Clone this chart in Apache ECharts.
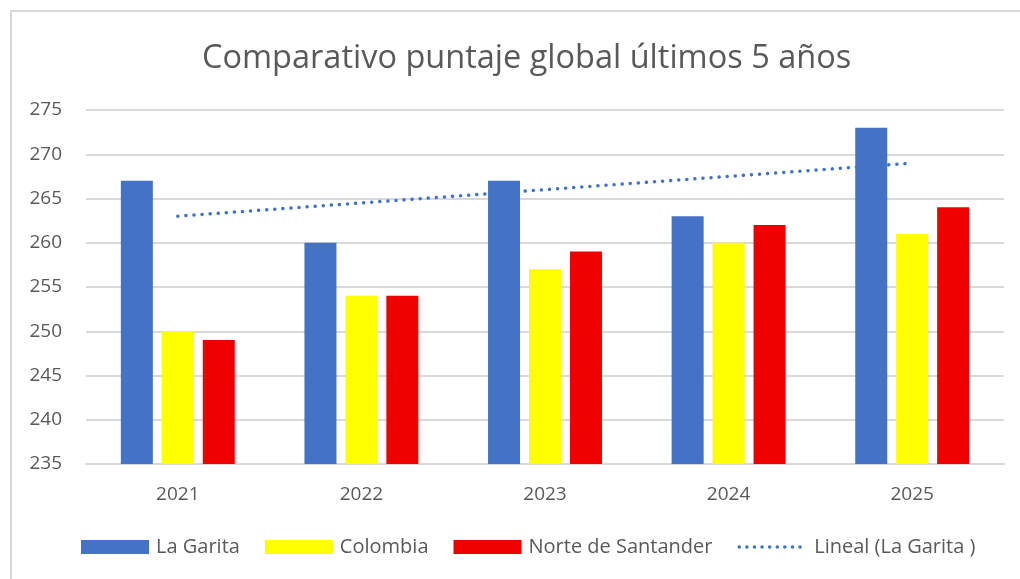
<!DOCTYPE html>
<html>
<head>
<meta charset="utf-8">
<script src="https://cdn.jsdelivr.net/npm/echarts@6/dist/echarts.min.js"></script>
<style>
html,body{margin:0;padding:0;background:#fff;overflow:hidden;}
#frame{position:absolute;left:10px;top:10px;width:1100px;height:700px;border:2px solid #D9D9D9;box-sizing:border-box;}
#chart{position:absolute;left:0;top:0;width:1020px;height:579px;}
</style>
</head>
<body>
<div id="frame"></div>
<div id="chart"></div>
<script>
const categories = ['2021', '2022', '2023', '2024', '2025'];
const laGarita = [267, 260, 267, 263, 273];
const colombia = [250, 254, 257, 260, 261];
const norteSantander = [249, 254, 259, 262, 264];
const trendLaGarita = [263, 264.5, 266, 267.5, 269];
const yTicks = { min: 235, max: 275, interval: 5 };

const FONT = '"Open Sans", sans-serif';
const TXT = '#595959';
const chart = echarts.init(document.getElementById('chart'));
chart.setOption({
  backgroundColor: 'transparent',
  animation: false,
  title: {
    text: 'Comparativo puntaje global últimos 5 años',
    left: 197,
    top: 37,
    textStyle: { fontFamily: FONT, fontSize: 32.5, fontWeight: 'normal', color: TXT }
  },
  legend: {
    bottom: 17,
    left: 76,
    itemWidth: 68,
    itemHeight: 14,
    itemGap: 25,
    textStyle: { fontFamily: FONT, fontSize: 20, color: TXT, padding: [0, 0, 0, 2] },
    data: [
      { name: 'La Garita', icon: 'rect' },
      { name: 'Colombia', icon: 'rect' },
      { name: 'Norte de Santander', icon: 'rect' },
      { name: 'Lineal (La Garita )', itemStyle: { opacity: 0 },
        lineStyle: { color: '#4472C4', width: 3.5, type: [0.1, 7.5], cap: 'round' } }
    ]
  },
  grid: { left: 86, right: 16, top: 110, bottom: 115, containLabel: false },
  xAxis: {
    type: 'category',
    data: categories,
    axisLine: { lineStyle: { color: '#D9D9D9', width: 2 } },
    axisTick: { show: false },
    axisLabel: { fontFamily: FONT, fontSize: 19, color: TXT, margin: 21 }
  },
  yAxis: {
    type: 'value',
    min: yTicks.min,
    max: yTicks.max,
    interval: yTicks.interval,
    axisLine: { show: false },
    axisTick: { show: false },
    splitLine: { lineStyle: { color: '#D9D9D9', width: 2 } },
    axisLabel: { fontFamily: FONT, fontSize: 19, color: TXT, margin: 24 }
  },
  series: [
    { name: 'La Garita', type: 'bar', data: laGarita, barWidth: 32, barGap: '28%', itemStyle: { color: '#4472C4' } },
    { name: 'Colombia', type: 'bar', data: colombia, barWidth: 32, barGap: '28%', itemStyle: { color: '#FFFF00' } },
    { name: 'Norte de Santander', type: 'bar', data: norteSantander, barWidth: 32, barGap: '28%', itemStyle: { color: '#EE0000' } },
    {
      name: 'Lineal (La Garita )', type: 'line', data: trendLaGarita,
      symbol: 'none', z: 5, itemStyle: { color: '#4472C4' },
      lineStyle: { color: '#4472C4', width: 3.5, type: [0.1, 8], cap: 'round' }
    }
  ]
});
</script>
</body>
</html>
